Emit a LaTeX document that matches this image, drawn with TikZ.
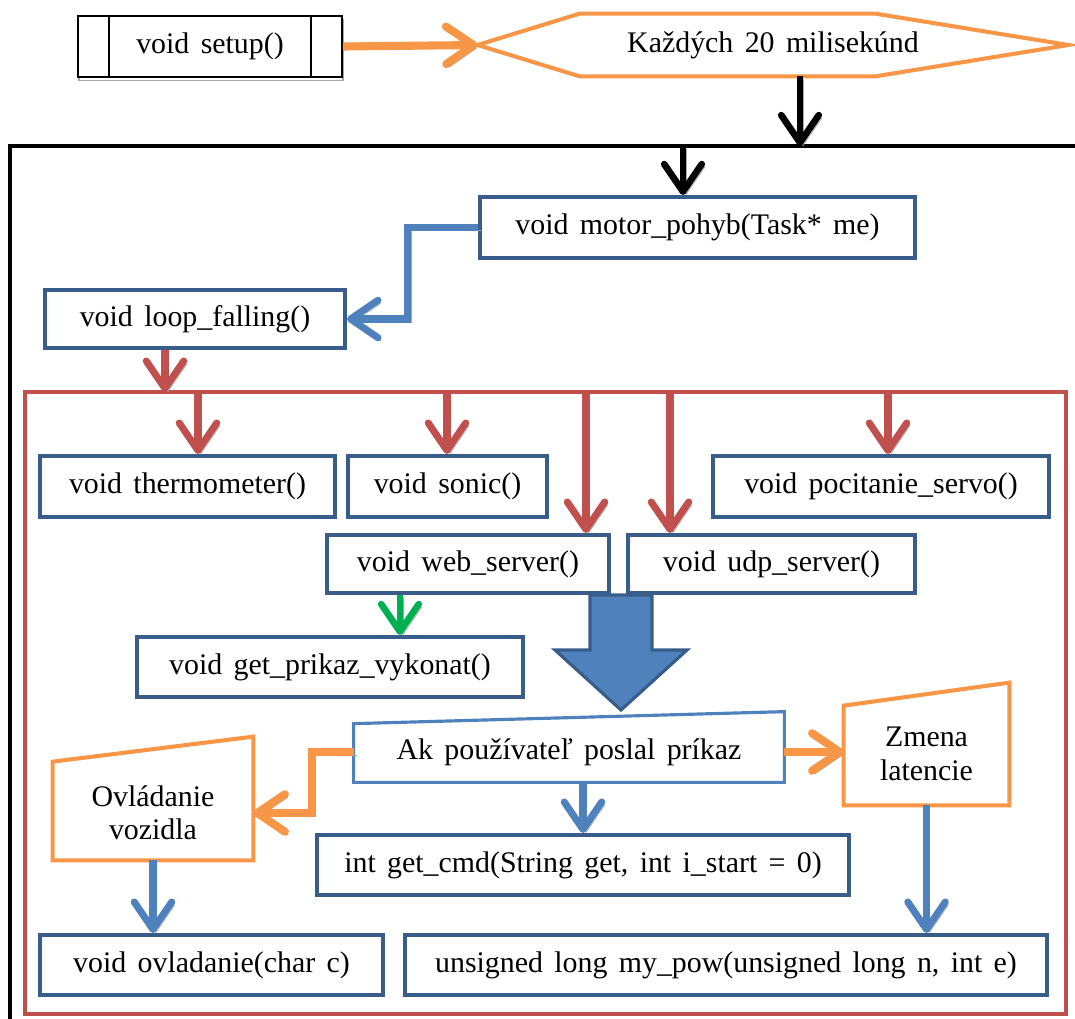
\documentclass[tikz,border=0pt]{standalone}
\usepackage{fontspec}
\setmainfont{Liberation Serif}
\usetikzlibrary{arrows.meta}
\definecolor{boxblue}{HTML}{385D8A}
\definecolor{lineblue}{HTML}{4F81BD}
\definecolor{linered}{HTML}{C0504D}
\definecolor{lineorange}{HTML}{F79646}
\definecolor{linegreen}{HTML}{00B050}
\newcommand\diagfont{\fontsize{17}{19}\selectfont\spaceskip=0.38em plus 0.1em minus 0.05em\relax}
\tikzset{
  fn/.style={draw=boxblue, line width=2.3pt, fill=white, minimum height=12mm, inner sep=0pt},
  flow/.style={-{Straight Barb[length=5.5mm,width=7.5mm,round]},
    preaction={draw=black!35, transform canvas={shift={(0.6mm,-0.6mm)}}}},
  oflow/.style={flow, draw=lineorange, line width=4.6pt},
  bflow/.style={flow, draw=lineblue, line width=4pt},
  rflow/.style={flow, draw=linered, line width=4pt},
  kflow/.style={flow, draw=black, line width=3.8pt},
  gflow/.style={flow, draw=linegreen, line width=3.8pt},
}
\begin{document}
\begin{tikzpicture}[x=0.2mm, y=-0.2mm, font=\diagfont]
  \useasboundingbox (0,0) rectangle (1075,1019);
  % frames
  \draw[line width=2.6pt] (1080,146) -- (10,146) -- (10,1030);
  \draw[draw=linered, line width=2.3pt] (25,392) rectangle (1066,1014);

  % top row
  \node[draw, line width=0.9pt, fill=white, minimum width=52.8mm, minimum height=12.2mm,
    preaction={draw=black!35, transform canvas={shift={(0.2mm,-0.7mm)}}}] (setup) at (210,46.5) {void setup()};
  \draw[line width=0.9pt] ([xshift=6.4mm]setup.north west) -- ([xshift=6.4mm]setup.south west);
  \draw[line width=0.9pt] ([xshift=-6.4mm]setup.north east) -- ([xshift=-6.4mm]setup.south east);
  \node[minimum width=118mm, minimum height=12.4mm, inner sep=0pt] (hex) at (773,45) {Každých 20 milisekúnd};
  \draw[draw=lineorange, line width=2.3pt] (hex.west) -- ([xshift=20.4mm]hex.north west)
    -- ([xshift=-38.6mm]hex.north east) -- (hex.east) -- ([xshift=-38.6mm]hex.south east)
    -- ([xshift=20.4mm]hex.south west) -- cycle;
  \draw[oflow] (setup.east) -- (hex.west);
  \coordinate (ftop) at (800,146);
  \draw[kflow] (hex.south -| ftop) -- (ftop);

  \node[fn, minimum width=87mm, minimum height=12.2mm] (motor) at (697.5,227.5) {void motor\_pohyb(Task* me)};
  \node[fn, minimum width=60mm, minimum height=11.6mm] (loop) at (195,319) {void loop\_falling()};
  \coordinate (mtop) at (683,146);
  \draw[kflow] (mtop) -- (mtop |- motor.north);
  \draw[bflow] (motor.west) -- ++(-70,0) |- (loop.east);
  \coordinate (rtop) at (165,392);
  \draw[rflow] (loop.south -| rtop) -- (rtop);

  % tasks
  \node[fn, minimum width=59mm, minimum height=12.2mm] (thermo) at (187.5,486.5) {void thermometer()};
  \node[fn, minimum width=39.8mm, minimum height=12.2mm] (sonic) at (447.5,486.5) {void sonic()};
  \node[fn, minimum width=67.2mm, minimum height=12.2mm] (pocit) at (881,486.5) {void pocitanie\_servo()};
  \node[fn, minimum width=56.4mm, minimum height=11.6mm] (web) at (468,564) {void web\_server()};
  \node[fn, minimum width=57.4mm, minimum height=11.6mm] (udp) at (771.5,564) {void udp\_server()};
  \foreach \xx/\target in {198/thermo, 447/sonic, 586/web, 670/udp, 888/pocit}
    \draw[rflow] (\xx,392) -- (\xx,392 |- \target.north);

  \node[fn, minimum width=77.2mm] (getp) at (330,667) {void get\_prikaz\_vykonat()};
  \draw[gflow] (400,0 |- web.south) -- (400,0 |- getp.north);
  \draw[draw=boxblue, fill=lineblue, line width=1.8pt] (590,595) -- (652,595) -- (652,650)
    -- (687,650) -- (621,710) -- (555,650) -- (590,650) -- cycle;

  % command handling
  \node[minimum width=86mm, minimum height=12mm, inner sep=0pt] (ak) at (569,752) {Ak používateľ poslal príkaz};
  \draw[draw=lineblue, line width=1.8pt] (ak.south west) -- ([yshift=-0.4mm]ak.north west)
    -- ([yshift=2mm]ak.north east) -- (ak.south east) -- cycle;
  \node[minimum width=40mm, minimum height=18.8mm, inner sep=0pt, align=center] (ovl) at (153,813) {Ovládanie\\vozidla};
  \draw[draw=lineorange, line width=2.3pt] (ovl.south west) -- ([yshift=0.8mm]ovl.north west)
    -- ([yshift=5.8mm]ovl.north east) -- (ovl.south east) -- cycle;
  \node[minimum width=33mm, minimum height=20.4mm, inner sep=0pt, align=center] (zmena) at (926.5,754) {Zmena\\latencie};
  \draw[draw=lineorange, line width=2.3pt] (zmena.south west) -- ([yshift=-0.6mm]zmena.north west)
    -- ([yshift=4mm]zmena.north east) -- (zmena.south east) -- cycle;
  \node[fn, minimum width=106.4mm] (getcmd) at (583,865) {int get\_cmd(String get, int i\_start = 0)};
  \node[fn, minimum width=68.6mm] (ovlad) at (211.5,965) {void ovladanie(char c)};
  \node[fn, minimum width=128.4mm] (mypow) at (726,965) {unsigned long my\_pow(unsigned long n, int e)};

  \draw[oflow] (ak.west) -- ++(-42,0) |- (ovl.east);
  \draw[oflow] (ak.east) -- (ak.east -| zmena.west);
  \draw[bflow] (getcmd.north |- ak.south) -- (getcmd.north);
  \draw[bflow] (ovl.south) -- (ovl.south |- ovlad.north);
  \draw[bflow] (zmena.south) -- (zmena.south |- mypow.north);
\end{tikzpicture}
\end{document}
